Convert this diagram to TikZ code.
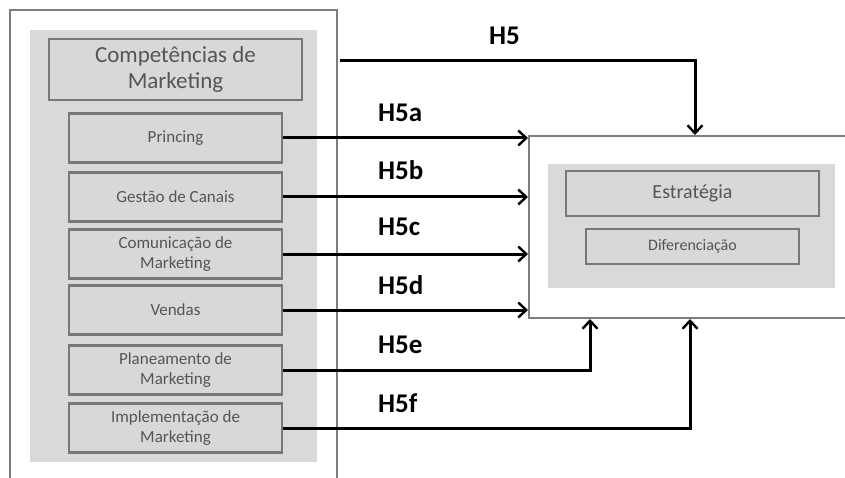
\documentclass[tikz,border=0pt]{standalone}
\usepackage{fontspec}
\setmainfont{Carlito}
\usetikzlibrary{arrows.meta,positioning}
\definecolor{panel}{RGB}{217,217,217}
\definecolor{boxfill}{RGB}{216,216,216}
\definecolor{boxline}{RGB}{120,120,120}
\definecolor{frameline}{RGB}{125,125,125}
\definecolor{txt}{RGB}{85,85,85}
\tikzset{
  compbox/.style={draw=boxline, line width=2.6pt, fill=boxfill, text=txt,
    align=center, inner sep=0pt, minimum width=213pt, minimum height=49pt,
    font=\fontsize{17}{20}\selectfont},
  arr/.style={line width=3pt, -{Straight Barb[length=8pt,width=15pt,line width=2.4pt]}},
  hlabel/.style={font=\fontsize{27}{30}\selectfont\bfseries, anchor=west, inner sep=0pt},
}
\begin{document}
\begin{tikzpicture}[x=1pt,y=-1pt]
\useasboundingbox (0,0) rectangle (845,478);
\clip (0,0) rectangle (845,478);
\fill[white] (0,0) rectangle (845,478);
% left container (open at bottom)
\node[draw=frameline, line width=2pt, minimum width=327pt, minimum height=490pt, inner sep=0pt] (outer) at (173.5,255) {};
\node[fill=panel, minimum width=287pt, minimum height=432pt, inner sep=0pt] (lpanel) at (173.5,246) {};
\node[compbox, minimum width=253pt, minimum height=61pt, font=\fontsize{23}{26}\selectfont] (comp) at (175.5,69.5) {Competências de\\Marketing};
\node[compbox] (pri) at (175.5,138) {Princing};
\node[compbox] (ges) at (175.5,197) {Gestão de Canais};
\node[compbox] (com) at (175.5,254) {Comunicação de\\Marketing};
\node[compbox] (ven) at (175.5,310) {Vendas};
\node[compbox] (pla) at (175.5,370) {Planeamento de\\Marketing};
\node[compbox] (imp) at (175.5,428) {Implementação de\\Marketing};
% right container (open at right)
\node[draw=frameline, line width=2pt, fill=white, minimum width=340pt, minimum height=182pt, inner sep=0pt] (rbox) at (699,227) {};
\node[fill=panel, minimum width=287pt, minimum height=124pt, inner sep=0pt] (rpanel) at (691.5,226) {};
\node[compbox, minimum width=253pt, minimum height=45pt, font=\fontsize{20}{24}\selectfont] (est) at (692.5,193.5) {Estratégia};
\node[compbox, minimum width=213pt, minimum height=35pt, font=\fontsize{16}{19}\selectfont] (dif) at (692.5,246.5) {Diferenciação};
% connectors
\coordinate (h5s) at (340,61);
\coordinate (h5c) at (695,61);
\draw[arr] (h5s) -- (h5c) -- (h5c |- rbox.north);
\draw[arr] (pri.east) -- (pri.east -| rbox.west);
\draw[arr] (ges.east) -- (ges.east -| rbox.west);
\draw[arr] (com.east) -- (com.east -| rbox.west);
\draw[arr] (ven.east) -- (ven.east -| rbox.west);
\coordinate (h5ec) at (590,370);
\coordinate (h5fc) at (690,428);
\draw[arr] (pla.east) -- (h5ec) -- (h5ec |- rbox.south);
\draw[arr] (imp.east) -- (h5fc) -- (h5fc |- rbox.south);
% labels
\node[hlabel] (l5) at (489,36) {H5};
\node[hlabel] (l5a) at (378,113) {H5a};
\node[hlabel] (l5b) at (378,170) {H5b};
\node[hlabel] (l5c) at (378,227) {H5c};
\node[hlabel] (l5d) at (378,285) {H5d};
\node[hlabel] (l5e) at (378,345) {H5e};
\node[hlabel] (l5f) at (378,403) {H5f};
\end{tikzpicture}
\end{document}
